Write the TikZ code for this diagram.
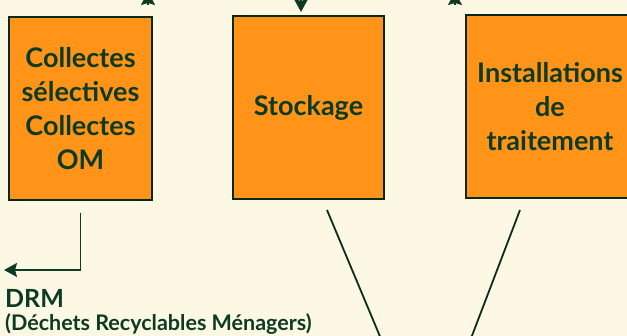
\documentclass[tikz,border=0pt]{standalone}
\usepackage{fontspec}
\setmainfont{Lato}
\usetikzlibrary{arrows.meta}
\definecolor{creme}{HTML}{FDF8E3}
\definecolor{orangebox}{HTML}{FF9418}
\definecolor{vertfonce}{HTML}{0D3A22}
\tikzset{
  boite/.style={draw=vertfonce!70!black, line width=1.4pt, fill=orangebox, inner sep=0pt,
    align=center, text=vertfonce, font=\bfseries\fontsize{27}{34}\selectfont},
  fleche/.style={-{Stealth[length=13pt,width=14pt,inset=2pt]}, line width=1.8pt, draw=vertfonce},
  trait/.style={line width=1.8pt, draw=vertfonce!80!black},
  legende/.style={anchor=base west, inner sep=0pt, text=vertfonce}
}
\begin{document}
\begin{tikzpicture}[x=1pt,y=-1pt]
\useasboundingbox[fill=creme] (0,0) rectangle (627,336);
% les trois boites
\node[boite, minimum width=143pt, minimum height=183pt] (collectes) at (80.5,108.5) {Collectes\\sélectives\\Collectes\\OM};
\node[boite, minimum width=151pt, minimum height=183pt] (stockage) at (308.5,107.5) {Stockage};
\node[boite, minimum width=168pt, minimum height=183pt] (traitement) at (550,106.5) {Installations\\de\\traitement};
% fleches du haut (coupees)
\coordinate (h1a) at (148,5);   \coordinate (h1b) at (148,-8);
\coordinate (h2a) at (301,-20); \coordinate (h2b) at (301,12);
\coordinate (h3a) at (455,5);   \coordinate (h3b) at (455,-8);
\foreach \i in {1,2,3} \draw[fleche] (h\i a) -- (h\i b);
% sortie DRM
\coordinate (fin) at (4,270);
\draw[fleche] ([yshift=-12pt]collectes.south) |- (fin);
\node[legende, font=\bfseries\fontsize{25}{25}\selectfont] (drm) at (5,308) {DRM};
\node[legende, font=\bfseries\fontsize{21.5}{21.5}\selectfont] (drmtexte) at (5,331) {(Déchets Recyclables Ménagers)};
% vers le bas
\coordinate (jonction) at (428,451);
\coordinate (s1) at (327,210);
\coordinate (s2) at (520,210);
\draw[trait] (s1) -- (jonction);
\draw[trait] (s2) -- (jonction);
\end{tikzpicture}
\end{document}
